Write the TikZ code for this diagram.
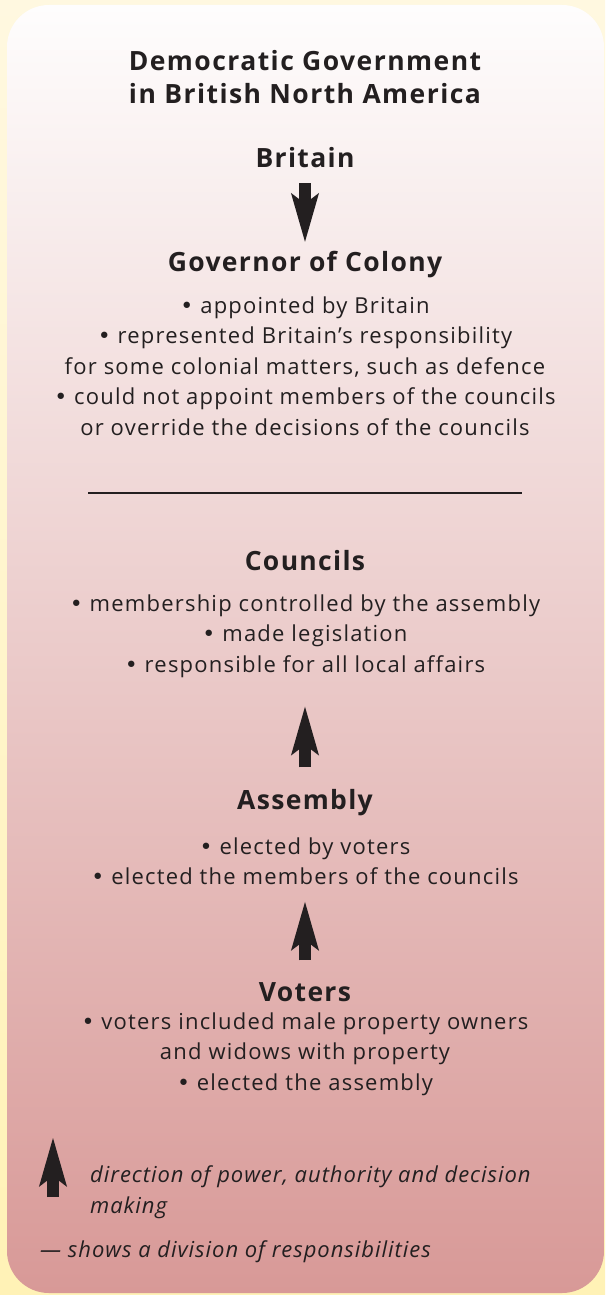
\documentclass[tikz,border=0pt]{standalone}
\usepackage{fontspec}
\setmainfont{Open Sans}[Ligatures={TeX,NoCommon}]
\newfontfamily\bulletfont{DejaVu Sans}
\newcommand{\bul}{{\bulletfont •}}
\usetikzlibrary{arrows.meta,positioning}

\definecolor{cream}{RGB}{255,248,224}
\definecolor{creamdeep}{RGB}{255,242,182}
\definecolor{paneltop}{RGB}{254,253,253}
\definecolor{panelbottom}{RGB}{216,153,151}
\definecolor{ink}{RGB}{35,31,32}

\begin{document}
\begin{tikzpicture}[x=1pt,y=-1pt,
    title/.style={font=\bfseries\fontsize{26.5}{33}\selectfont\addfontfeature{LetterSpace=5.5}, text=ink, inner sep=0pt, align=center},
    heading/.style={font=\bfseries\fontsize{26.5}{30}\selectfont\addfontfeature{LetterSpace=5}, text=ink, inner sep=0pt, text height=19pt, text depth=6pt},
    bullets/.style={font=\fontsize{22}{30.5}\selectfont\addfontfeature{LetterSpace=5.5}, text=ink, inner sep=0pt, align=center},
    keytext/.style={font=\itshape\fontsize{22}{31}\selectfont\addfontfeature{LetterSpace=4.4}, text=ink, inner sep=0pt, align=left, anchor=west},
    powerarrow/.style={-{Stealth[length=48pt,width=26pt,inset=9pt]}, line width=12pt, draw=ink}]

    % Background and panel
    \useasboundingbox (0,0) rectangle (605,1295);
    \shade[top color=cream, bottom color=creamdeep] (0,0) rectangle (605,1295);
    \shade[top color=paneltop, bottom color=panelbottom, rounded corners=42pt] (7,5) rectangle (604,1293);

    % Title
    \node[title] (title) at (305,77) {Democratic Government\\in British North America};

    % Britain and the governor
    \node[heading] (britain) at (305,161) {Britain};
    \node[heading] (governor) at (305,265) {Governor of Colony};
    \node[bullets] (govlist) at (305,366) {\bul{} appointed by Britain\\
        \bul{} represented Britain’s responsibility\\
        for some colonial matters, such as defence\\
        \bul{} could not appoint members of the councils\\
        or override the decisions of the councils};

    % Division of responsibilities
    \coordinate (divleft) at (88,493);
    \coordinate (divright) at (522,493);
    \draw[ink, line width=2.5pt] (divleft) -- (divright);

    % Councils, assembly and voters
    \node[heading] (councils) at (305,564) {Councils};
    \node[bullets] (counlist) at (305,636) {\bul{} membership controlled by the assembly\\
        \bul{} made legislation\\
        \bul{} responsible for all local affairs};
    \node[heading] (assembly) at (305,803) {Assembly};
    \node[bullets] (assemlist) at (305,861) {\bul{} elected by voters\\
        \bul{} elected the members of the councils};
    \node[heading] (voters) at (305,995) {Voters};
    \node[bullets] (voterlist) at (305,1054) {\bul{} voters included male property owners\\
        and widows with property\\
        \bul{} elected the assembly};

    % Power arrows
    \draw[powerarrow, shorten <=9.5pt, shorten >=9.5pt] (britain) -- (governor);
    \draw[powerarrow, shorten <=23pt, shorten >=28pt] (assembly) -- (counlist);
    \draw[powerarrow, shorten <=22pt, shorten >=16pt] (voters) -- (assemlist);

    % Key
    \coordinate (keybase) at (53,1197);
    \coordinate (keytip) at (53,1137);
    \draw[powerarrow] (keybase) -- (keytip);
    \node[keytext] (keyarrow) at (90,1192) {direction of power, authority and decision\\making};
    \node[keytext] (keyline) at (40,1252) {\textemdash{} shows a division of responsibilities};
\end{tikzpicture}
\end{document}
